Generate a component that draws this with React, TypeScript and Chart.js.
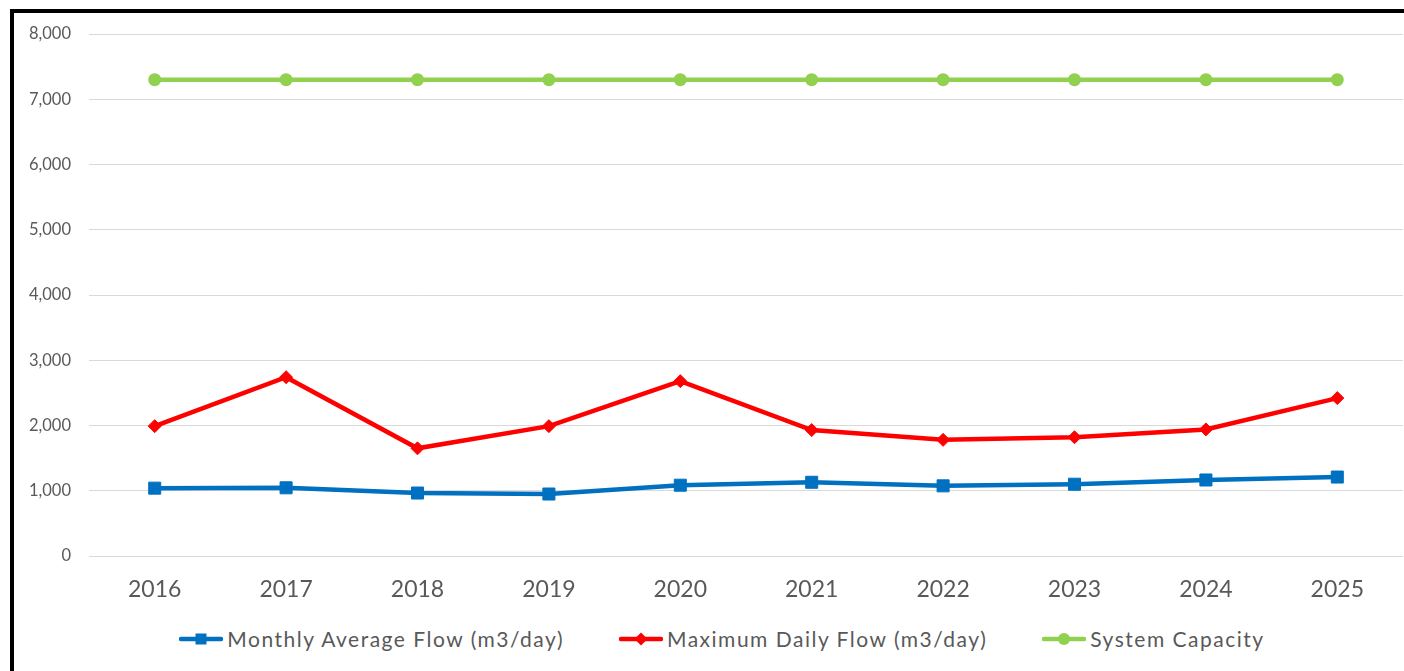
import React, { useEffect, useRef } from "react";
import { Chart, registerables } from "chart.js";

Chart.register(...registerables);

const years = ["2016", "2017", "2018", "2019", "2020", "2021", "2022", "2023", "2024", "2025"];
const monthlyAverageFlow = [1040, 1045, 965, 950, 1085, 1130, 1075, 1100, 1165, 1210];
const maximumDailyFlow = [1990, 2740, 1650, 1990, 2680, 1930, 1780, 1820, 1940, 2420];
const systemCapacity = [7300, 7300, 7300, 7300, 7300, 7300, 7300, 7300, 7300, 7300];
const seriesNames = ["Monthly Average Flow (m3/day)", "Maximum Daily Flow (m3/day)", "System Capacity"];
const seriesColors = ["#0070C0", "#FF0000", "#92D050"];
const yMin = 0;
const yMax = 8000;
const yStep = 1000;

const FONT = "Lato, 'Open Sans', sans-serif";

function Marker({ kind, color }: { kind: string; color: string }) {
  return (
    <svg width={44} height={16} style={{ display: "block" }}>
      <line x1={2} y1={8} x2={42} y2={8} stroke={color} strokeWidth={4.5} strokeLinecap="round" />
      {kind === "rect" && <rect x={16.5} y={2.5} width={11} height={11} fill={color} />}
      {kind === "rectRot" && <polygon points="22,1.5 28.5,8 22,14.5 15.5,8" fill={color} />}
      {kind === "circle" && <circle cx={22} cy={8} r={6} fill={color} />}
    </svg>
  );
}

export default function App() {
  const canvasRef = useRef<HTMLCanvasElement | null>(null);

  useEffect(() => {
    document.body.style.margin = "0";
    document.body.style.overflow = "hidden";
    const canvas = canvasRef.current;
    if (!canvas) return;
    const chart = new Chart(canvas, {
      type: "line",
      data: {
        labels: years,
        datasets: [
          {
            label: seriesNames[0],
            data: monthlyAverageFlow,
            borderColor: seriesColors[0],
            backgroundColor: seriesColors[0],
            borderWidth: 4.5,
            pointStyle: "rect",
            pointRadius: 8.5,
            pointBorderWidth: 1,
            tension: 0,
          },
          {
            label: seriesNames[1],
            data: maximumDailyFlow,
            borderColor: seriesColors[1],
            backgroundColor: seriesColors[1],
            borderWidth: 4.5,
            pointStyle: "rectRot",
            pointRadius: 6.5,
            pointBorderWidth: 1,
            tension: 0,
          },
          {
            label: seriesNames[2],
            data: systemCapacity,
            borderColor: seriesColors[2],
            backgroundColor: seriesColors[2],
            borderWidth: 4.5,
            pointStyle: "circle",
            pointRadius: 6.5,
            pointBorderWidth: 0,
            tension: 0,
          },
        ],
      },
      options: {
        animation: false,
        responsive: true,
        maintainAspectRatio: false,
        layout: { autoPadding: false, padding: { top: 21, right: 1, bottom: 0, left: 0 } },
        plugins: { legend: { display: false }, tooltip: { enabled: false }, title: { display: false } },
        scales: {
          x: {
            offset: true,
            grid: { display: false, drawTicks: false },
            border: { display: false },
            ticks: { color: "#595959", font: { family: FONT, size: 23 }, padding: 20 },
            afterFit: (s: any) => {
              s.height = 57;
              s.paddingLeft = 0;
              s.paddingRight = 0;
            },
          },
          y: {
            min: yMin,
            max: yMax,
            grid: { color: "#D9D9D9", lineWidth: 1, drawTicks: false },
            border: { display: false },
            ticks: {
              stepSize: yStep,
              color: "#595959",
              font: { family: FONT, size: 16.5 },
              padding: 18,
              callback: (v: any) => Number(v).toLocaleString("en-US"),
            },
            afterFit: (s: any) => {
              s.width = 76;
              s.paddingTop = 0;
              s.paddingBottom = 0;
            },
          },
        },
      },
    });
    return () => chart.destroy();
  }, []);

  const kinds = ["rect", "rectRot", "circle"];

  return (
    <div style={{ position: "fixed", left: 0, top: 0, width: 1404, height: 671, overflow: "hidden", background: "#fff" }}>
      <div
        style={{
          position: "absolute",
          left: 10,
          top: 9,
          width: 1500,
          height: 800,
          border: "4px solid #000",
          boxSizing: "border-box",
        }}
      />
      <div style={{ position: "absolute", left: 13, top: 13, width: 1391, height: 600 }}>
        <canvas ref={canvasRef} />
      </div>
      <div
        style={{
          position: "absolute",
          left: 0,
          top: 626,
          width: 1444,
          display: "flex",
          justifyContent: "center",
          gap: 55,
          fontFamily: FONT,
          fontSize: 21,
          letterSpacing: 1.5,
          color: "#595959",
        }}
      >
        {seriesNames.map((n, i) => (
          <div key={n} style={{ display: "flex", alignItems: "center", gap: 4 }}>
            <Marker kind={kinds[i]} color={seriesColors[i]} />
            <span>{n}</span>
          </div>
        ))}
      </div>
    </div>
  );
}
